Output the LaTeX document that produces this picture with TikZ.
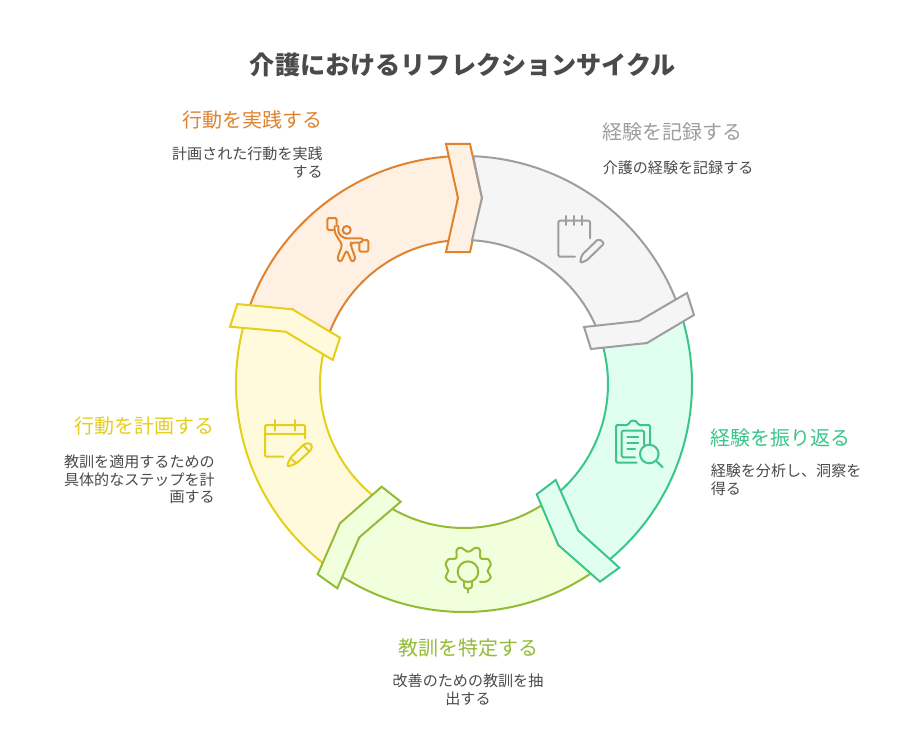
\documentclass[tikz,border=0pt]{standalone}
\usepackage{fontspec}
\setmainfont{Noto Sans CJK JP}
\definecolor{gs}{HTML}{9E9E9E}\definecolor{gf}{HTML}{F5F5F5}
\definecolor{os}{HTML}{E0832F}\definecolor{of}{HTML}{FFF0E4}
\definecolor{ts}{HTML}{3CC58A}\definecolor{tf}{HTML}{E1FFF1}
\definecolor{ls}{HTML}{93BB35}\definecolor{lf}{HTML}{F2FFDC}
\definecolor{ys}{HTML}{E6CF1B}\definecolor{yf}{HTML}{FFFADC}
\definecolor{txt}{HTML}{4A4A4A}
\tikzset{
  seg/.style n args={2}{draw=#1,fill=#2,line width=1.5pt,line join=miter},
  icon/.style={draw=#1,line width=1.5pt,line join=round,line cap=round,rounded corners=1pt},
  titletext/.style={font=\fontsize{18.85pt}{22pt}\selectfont\bfseries,text=txt,inner sep=0pt},
  headtext/.style={font=\fontsize{15pt}{18pt}\selectfont,inner sep=0pt},
  bodytext/.style={font=\fontsize{11.3pt}{13.2pt}\selectfont,text=txt,inner sep=0pt},
}
% #1 stroke #2 fill #3 outer start #4 outer end #5 junction #6 inner end #7 inner start #8 notch
\newcommand{\ringbody}[8]{%
  \path[seg={#1}{#2}] ([shift={(#3:171pt)}]464,-384) arc[start angle=#3,end angle=#4,radius=171pt]
    -- (#5) -- ([shift={(#6:108pt)}]464,-384) arc[start angle=#6,end angle=#7,radius=108pt]
    -- (#8) -- cycle;}
\begin{document}
\begin{tikzpicture}[x=0.75pt,y=0.75pt]
\useasboundingbox (0,0) rectangle (924,-756);
\fill[white] (0,0) rectangle (924,-756);
% orange
\ringbody{os}{of}{161.7}{92.5}{458,-198}{94.5}{159.9}{292.3,-309.3}
\path[seg={os}{of}] (446,-144) -- (470,-144) -- (482,-198) -- (470,-252) -- (446,-252) -- (458,-198) -- cycle;
% yellow
\ringbody{ys}{yf}{-126.3}{-196.1}{285.7,-331.7}{-194}{-127.9}{340,-523.3}
\path[seg={ys}{yf}] (237.3,-304) -- (292.3,-309.3) -- (340,-337.7) -- (332.7,-360) -- (285.7,-331.7) -- (230,-326.7) -- cycle;
% light green
\ringbody{ls}{lf}{-54.4}{-124}{359.3,-537.3}{-121.7}{-55.8}{558.3,-545}
\path[seg={ls}{lf}] (381.7,-486.7) -- (400.7,-501.7) -- (359.3,-537.3) -- (337.3,-588.3) -- (317.7,-574.3) -- (340,-523.3) -- cycle;
% green
\ringbody{ts}{tf}{17.6}{-52}{578.3,-530.7}{-49.6}{16.3}{647,-343}
\path[seg={ts}{tf}] (555.7,-480) -- (578.3,-530.7) -- (619.3,-567.7) -- (600,-581.7) -- (558.3,-545) -- (536.7,-494.3) -- cycle;
% gray
\ringbody{gs}{gf}{87.7}{19.7}{639,-321}{21.9}{86.8}{482,-198}
\path[seg={gs}{gf}] (687,-293) -- (694,-315) -- (647,-343) -- (591,-349) -- (584,-327) -- (639,-321) -- cycle;
% icon: notepad
\path[icon=gs] (590,-238.3) -- (590,-220.7) -- (558.3,-220.7) -- (558.3,-256.7) -- (575,-256.7);
\path[icon=gs] (566,-216) -- (566,-225) (574,-216) -- (574,-225) (582,-216) -- (582,-225);
\path[icon=gs,rounded corners=1.5pt] (580,-263) -- (581.7,-255) -- (598.7,-238.7) -- (604.3,-243.3) -- (586.7,-260.5) -- cycle;
% icon: person with boxes
\path[icon=os] (346.7,-230) circle[radius=4];
\path[icon=os,rounded corners=2pt] (334.7,-226) -- (334.7,-232.7) -- (342.3,-245) -- (337,-259) -- (340.7,-262.5) -- (346.7,-250) -- (352,-262.5) -- (355.7,-259) -- (350.7,-245) -- (351,-242.7) -- (362,-242.7) -- (363.5,-238.3) -- (344,-238.3) -- (338.3,-233.3) -- (338.3,-226);
\path[icon=os] (333.3,-230) -- (327.3,-230) -- (327.3,-218) -- (336.7,-218) -- (336.7,-226);
\path[icon=os] (359.3,-243) -- (359.3,-251.7) -- (368.3,-251.7) -- (368.3,-240) -- (364,-240);
% icon: clipboard
\path[icon=ts] (636.7,-462.7) -- (616,-462.7) -- (616,-425) -- (628.3,-425) .. controls (630,-419.5) and (636.5,-419.5) .. (638.3,-425) -- (650,-425) -- (650,-445);
\path[icon=ts] (635,-457.3) -- (621.7,-457.3) -- (621.7,-430.7) -- (644,-430.7) -- (644,-445);
\path[icon=ts] (627.3,-436.7) -- (638.3,-436.7) (627.3,-442.7) -- (638.3,-442.7) (627.3,-448.7) -- (635,-448.7);
\path[icon=ts] (649.3,-454) circle[radius=9.3];
\path[icon=ts] (656,-460.7) -- (662.7,-467.3);
% icon: gear bulb
\draw[ls,line width=1.5pt,line cap=round] plot[smooth,tension=0.6] coordinates {(456,-581.7) (450,-581.7) (445.7,-577.3) (448.3,-570.7) (445.7,-565) (448.3,-559.3) (456,-558.3) (456.7,-550) (461,-547.7) (468.3,-551.7) (475.7,-547.7) (480,-550) (480.7,-558.3) (488.3,-559.3) (490.7,-565) (487.7,-570.7) (490.7,-577.3) (486,-581.7) (480,-581.7)};
\path[icon=ls] (468,-571.7) circle[radius=10.3];
\path[icon=ls,rounded corners=2pt] (464,-581.7) -- (464,-588.5) -- (472,-588.5) -- (472,-581.7);
\path[icon=ls] (468,-589.3) -- (468,-592.7);
% icon: calendar
\path[icon=ys] (283.3,-456.7) -- (265,-456.7) -- (265,-425) -- (305,-425) -- (305,-438.3);
\path[icon=ys] (265,-434) -- (305,-434) (275,-420) -- (275,-430.7) (295,-420) -- (295,-430.7);
\path[icon=ys,rounded corners=2pt] (286.7,-467) -- (290,-458.3) -- (305,-443.3) -- (311.5,-443.5) -- (312,-449) -- (296.7,-463.3) -- cycle;
\path[icon=ys] (303.3,-445) -- (309.3,-451.7) (290,-458.3) -- (296.7,-463.3);
% texts
\node[titletext] (title) at (463,-65) {介護におけるリフレクションサイクル};
\node[headtext,text=os,anchor=east] (h1) at (323,-120) {行動を実践する};
\node[bodytext,anchor=north east,align=right] (b1) at (323,-146.5) {計画された行動を実践\\する};
\node[headtext,text=gs,anchor=west] (h2) at (602,-132) {経験を記録する};
\node[bodytext,anchor=west] (b2) at (602.5,-167.5) {介護の経験を記録する};
\node[headtext,text=ts,anchor=west] (h3) at (710,-438) {経験を振り返る};
\node[bodytext,anchor=north west,align=left] (b3) at (710.5,-463.5) {経験を分析し、洞察を\\得る};
\node[headtext,text=ls] (h4) at (468,-648) {教訓を特定する};
\node[bodytext,anchor=north,align=center] (b4) at (468,-673.5) {改善のための教訓を抽\\出する};
\node[headtext,text=ys,anchor=east] (h5) at (215,-426) {行動を計画する};
\node[bodytext,anchor=north east,align=right] (b5) at (215,-454.5) {教訓を適用するための\\具体的なステップを計\\画する};
\end{tikzpicture}
\end{document}
